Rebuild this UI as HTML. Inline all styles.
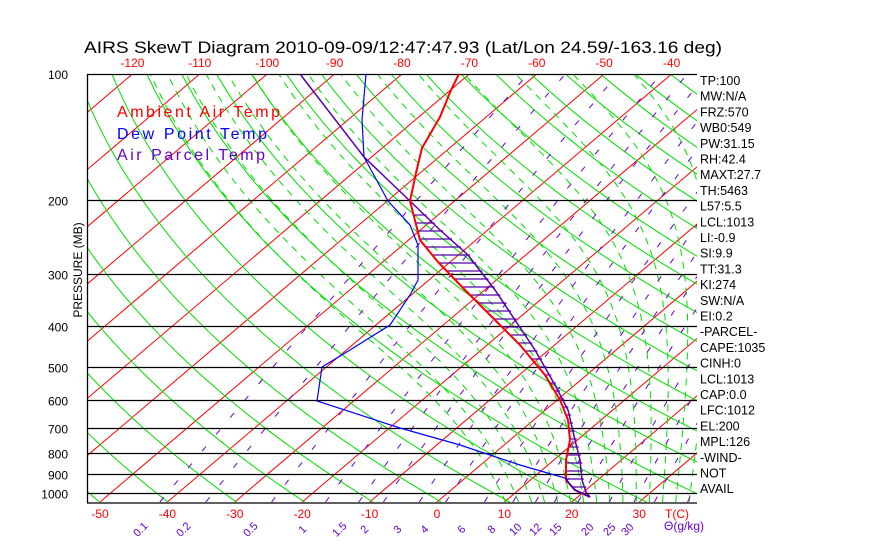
<!DOCTYPE html>
<html><head><meta charset="utf-8"><style>
body{margin:0;background:#fff;width:870px;height:560px;overflow:hidden}
svg{display:block;font-family:"Liberation Sans",sans-serif}
</style></head><body>
<svg id="s" width="870" height="560" xmlns="http://www.w3.org/2000/svg">
<defs><clipPath id="c"><rect x="87" y="74" width="610" height="429"/></clipPath></defs>
<text x="84" y="53" font-size="17" fill="#000" textLength="638" lengthAdjust="spacingAndGlyphs">AIRS SkewT Diagram 2010-09-09/12:47:47.93 (Lat/Lon 24.59/-163.16 deg)</text>
<g id="g" clip-path="url(#c)"></g>
<g id="o"></g>
</svg>
<script>
var NS="http://www.w3.org/2000/svg",g=document.getElementById('g'),o=document.getElementById('o');
function Y(p){return 74+(Math.log(p)-Math.log(100))/(Math.log(1050)-Math.log(100))*428;}
function X(T,y){return 437+6.74*T+(502-y)*1.178;}
function el(par,n,a,t){var e=document.createElementNS(NS,n);for(var k in a)e.setAttribute(k,a[k]);if(t!=null)e.textContent=t;par.appendChild(e);return e;}
function pl(par,pts,st,w,d){el(par,'polyline',{points:pts.map(function(q){return q[0].toFixed(1)+','+q[1].toFixed(1)}).join(' '),fill:'none',stroke:st,'stroke-width':w||1,'stroke-dasharray':d||'none'});}
for(var T=-160;T<=50;T+=10){pl(g,[[X(T,502),502],[X(T,74),74]],'#f00',1);}
for(var th=200;th<=520;th+=10){var pts=[];for(var p=1050;p>=100;p-=10){var t=th*Math.pow(p/1000,0.286)-273.15;var y=Y(p);pts.push([X(t,y),y]);}pl(g,pts,'#0d0',1);}
function es(t){return 6.112*Math.exp(17.67*t/(t+243.5));}
for(var tw=8;tw<=36;tw+=2){var t=tw+273.15,p=1000,pts=[];
 var up=[];var tt=t;for(var pp=1000;pp<=1050;pp+=5){var rs=0.622*es(tt-273.15)/(pp-es(tt-273.15));var d=(287*tt+2.5e6*rs)/(pp*(1004+2.5e6*2.5e6*rs*0.622/(287*tt*tt)));up.push([pp,tt]);tt+=d*5;}
 for(var i=up.length-1;i>=0;i--){var y=Y(up[i][0]);pts.push([X(up[i][1]-273.15,y),y]);}
 for(p=1000;p>=100;p-=5){var rs=0.622*es(t-273.15)/(p-es(t-273.15));var d=(287*t+2.5e6*rs)/(p*(1004+2.5e6*2.5e6*rs*0.622/(287*t*t)));var y=Y(p);pts.push([X(t-273.15,y),y]);t-=d*5;}
 pl(g,pts,'#0d0',1,'7,6');}
var ws=[0.1,0.2,0.5,1,1.5,2,3,4,6,8,10,12,15,20,25,30,40];
ws.forEach(function(w){var pts=[];for(var p=1050;p>=100;p-=10){var e=w*p/(622+w);var l=Math.log(e/6.112);var td=243.5*l/(17.67-l);var y=Y(p);pts.push([X(td,y),y]);}pl(g,pts,'#60c',1,'6,16');});
[1000,900,800,700,600,500,400,300,200].forEach(function(p){var y=Math.round(Y(p))+0.5;el(o,'line',{x1:87,x2:697,y1:y,y2:y,stroke:'#000','stroke-width':1.3});el(o,'text',{x:68,y:y+5,'font-size':12,'text-anchor':'end',fill:'#000'},p);});
el(o,'line',{x1:87,x2:697,y1:74.5,y2:74.5,stroke:'#000','stroke-width':1.3});
el(o,'text',{x:68,y:79,'font-size':12,'text-anchor':'end'},100);
el(o,'line',{x1:87.5,x2:87.5,y1:74,y2:503,stroke:'#000','stroke-width':1.3});
el(o,'line',{x1:87,x2:697,y1:503,y2:503,stroke:'#000','stroke-width':1.3});
el(o,'text',{x:82,y:270,'font-size':12,transform:'rotate(-90 82 270)','text-anchor':'middle'},'PRESSURE (MB)');
for(var T=-120;T<=-40;T+=10){el(o,'text',{x:X(T,74),y:67,'font-size':12,fill:'#f00','text-anchor':'middle'},T);}
for(var T=-50;T<=30;T+=10){el(o,'text',{x:X(T,502),y:518,'font-size':12,fill:'#f00','text-anchor':'middle'},T);}
el(o,'text',{x:665,y:518,'font-size':12,fill:'#f00'},'T(C)');
var ml=[['0.1',143],['0.2',186],['0.5',253],['1',305],['1.5',342],['2',367],['3',400],['4',427],['6',464],['8',494],['10',518],['12',538],['15',558],['20',590],['25',612],['30',630]];
ml.forEach(function(m){el(o,'text',{x:m[1],y:532,'font-size':11,fill:'#60c',transform:'rotate(-45 '+m[1]+' 532)','text-anchor':'middle'},m[0]);});
el(o,'text',{x:664,y:530,'font-size':12,fill:'#60c'},'Θ(g/kg)');
el(o,'text',{x:117,y:117,'font-size':16,fill:'#f00',textLength:163},'Ambient Air Temp');
el(o,'text',{x:117,y:139,'font-size':16,fill:'#00f',textLength:150},'Dew Point Temp');
el(o,'text',{x:117,y:160,'font-size':16,fill:'#60c',textLength:148},'Air Parcel Temp');
var red=[[459,74],[451,90],[440,117],[422,148],[416,173],[410,201],[420,240],[438,262],[465,290],[495,320],[520,345],[545,375],[560,400],[568,420],[570,440],[566,460],[566,480],[575,490],[590,497]];
var par=[[300,74],[364,157],[410,201],[440,230],[468,255],[495,290],[515,320],[535,350],[555,385],[568,410],[575,440],[580,460],[582,480],[586,492],[590,497]];
function interp(a,y){for(var i=0;i<a.length-1;i++){if(y>=a[i][1]&&y<=a[i+1][1]){var f=(y-a[i][1])/(a[i+1][1]-a[i][1]);return a[i][0]+f*(a[i+1][0]-a[i][0]);}}return null;}
for(var y=215;y<495;y+=8){var a=interp(red,y),b=interp(par,y);if(a!=null&&b!=null&&b>a)el(o,'line',{x1:a,x2:b+2,y1:y,y2:y,stroke:'#50a','stroke-width':1.2});}
pl(o,par,'#50a',1.5);
pl(o,red,'#f00',2);
pl(o,[[366,74],[362,120],[364,157],[388,201],[410,225],[418,245],[418,280],[410,295],[390,325],[350,350],[322,367],[317,401],[400,428],[460,445],[520,465],[565,478],[575,490],[590,497]],'#00f',1.2);
var rt=['TP:100','MW:N/A','FRZ:570','WB0:549','PW:31.15','RH:42.4','MAXT:27.7','TH:5463','L57:5.5','LCL:1013','LI:-0.9','SI:9.9','TT:31.3','KI:274','SW:N/A','EI:0.2','-PARCEL-','CAPE:1035','CINH:0','LCL:1013','CAP:0.0','LFC:1012','EL:200','MPL:126','-WIND-','NOT','AVAIL'];
rt.forEach(function(t,i){el(o,'text',{x:700,y:85+i*15.7,'font-size':12.5},t);});
</script>
</body></html>
